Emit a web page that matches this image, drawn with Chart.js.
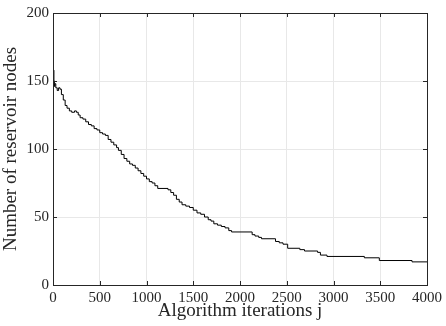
<!DOCTYPE html>
<html>
<head>
<meta charset="utf-8">
<script src="https://cdn.jsdelivr.net/npm/chart.js@4/dist/chart.umd.min.js"></script>
<style>
  html, body { margin: 0; padding: 0; background: #fff; }
  #wrap { width: 446px; height: 326px; }
</style>
</head>
<body>
<div id="wrap"><canvas id="nodesChart" width="446" height="326"></canvas></div>
<script>
const iterations = [0, 5, 10, 15, 20, 30, 45, 60, 75, 90, 110, 130, 150, 175, 200, 230, 250, 270, 290, 320,
  350, 380, 410, 440, 470, 500, 530, 560, 590, 620, 650, 680, 700, 730, 760, 790, 820, 850, 880, 910,
  940, 970, 1000, 1030, 1060, 1090, 1120, 1230, 1260, 1290, 1320, 1350, 1380, 1420, 1460, 1500, 1540, 1580,
  1620, 1660, 1690, 1720, 1760, 1800, 1840, 1880, 1910, 2130, 2160, 2200, 2230, 2380, 2420, 2460, 2510,
  2640, 2690, 2830, 2860, 2930, 3330, 3490, 3840, 4000];
const reservoirNodes = [165, 158, 150, 146, 148, 145, 143, 145, 144, 140, 136, 132, 130, 128, 127, 128, 127, 125, 123, 122,
  120, 118, 117, 115, 114, 112, 111, 110, 107, 105, 103, 101, 99, 96, 93, 91, 89, 88, 86, 84,
  82, 80, 78, 76, 75, 73, 71, 70, 68, 66, 63, 61, 59, 58, 57, 55, 53, 52,
  50, 48, 47, 45, 44, 43, 42, 40, 39, 37, 36, 35, 34, 32, 31, 30, 27,
  26, 25, 24, 22, 21, 20, 18, 17, 17];
const xTicks = [0, 500, 1000, 1500, 2000, 2500, 3000, 3500, 4000];
const yTicks = [0, 50, 100, 150, 200];

const serif = "'Liberation Serif', 'Times New Roman', serif";
const axisColor = "#262626";

// MATLAB-like box with inward tick marks
const boxTicks = {
  id: "boxTicks",
  afterDraw(chart) {
    const { ctx, chartArea: a, scales } = chart;
    ctx.save();
    ctx.strokeStyle = axisColor;
    ctx.lineWidth = 1;
    ctx.strokeRect(Math.round(a.left) + 0.5, Math.round(a.top) + 0.5,
      Math.round(a.right - a.left), Math.round(a.bottom - a.top));
    ctx.beginPath();
    xTicks.forEach(v => {
      const x = Math.round(scales.x.getPixelForValue(v)) + 0.5;
      ctx.moveTo(x, a.bottom); ctx.lineTo(x, a.bottom - 4);
      ctx.moveTo(x, a.top); ctx.lineTo(x, a.top + 4);
    });
    yTicks.forEach(v => {
      const y = Math.round(scales.y.getPixelForValue(v)) + 0.5;
      ctx.moveTo(a.left, y); ctx.lineTo(a.left + 4, y);
      ctx.moveTo(a.right, y); ctx.lineTo(a.right - 4, y);
    });
    ctx.stroke();
    ctx.restore();
  }
};

new Chart("nodesChart", {
  type: "line",
  data: {
    datasets: [{
      data: iterations.map((x, i) => ({ x: x, y: reservoirNodes[i] })),
      stepped: true,
      borderColor: "#000",
      borderWidth: 1,
      pointRadius: 0,
      fill: false
    }]
  },
  options: {
    responsive: false,
    animation: false,
    layout: { padding: { left: 0, right: 15, top: 11, bottom: 0 } },
    plugins: { legend: { display: false }, tooltip: { enabled: false } },
    scales: {
      x: {
        type: "linear",
        min: 0,
        max: 4000,
        afterBuildTicks: s => { s.ticks = xTicks.map(v => ({ value: v })); },
        afterFit: s => { s.height = 41; },
        border: { display: false },
        grid: { color: "#e8e8e8", drawTicks: false },
        ticks: { color: axisColor, font: { family: serif, size: 15 }, padding: 4, maxRotation: 0,
          callback: v => String(v) },
        title: {
          display: true,
          text: "Algorithm iterations j",
          color: axisColor,
          font: { family: serif, size: 19 },
          padding: { top: 0, bottom: 4 }
        }
      },
      y: {
        min: 0,
        max: 200,
        afterBuildTicks: s => { s.ticks = yTicks.map(v => ({ value: v })); },
        afterFit: s => { s.width = 53; },
        border: { display: false },
        grid: { color: "#e8e8e8", drawTicks: false },
        ticks: { color: axisColor, font: { family: serif, size: 15 }, padding: 4,
          callback: v => String(v) },
        title: {
          display: true,
          text: "Number of reservoir nodes",
          color: axisColor,
          font: { family: serif, size: 19 },
          padding: { top: 0, bottom: 0 }
        }
      }
    }
  },
  plugins: [boxTicks]
});
</script>
</body>
</html>
